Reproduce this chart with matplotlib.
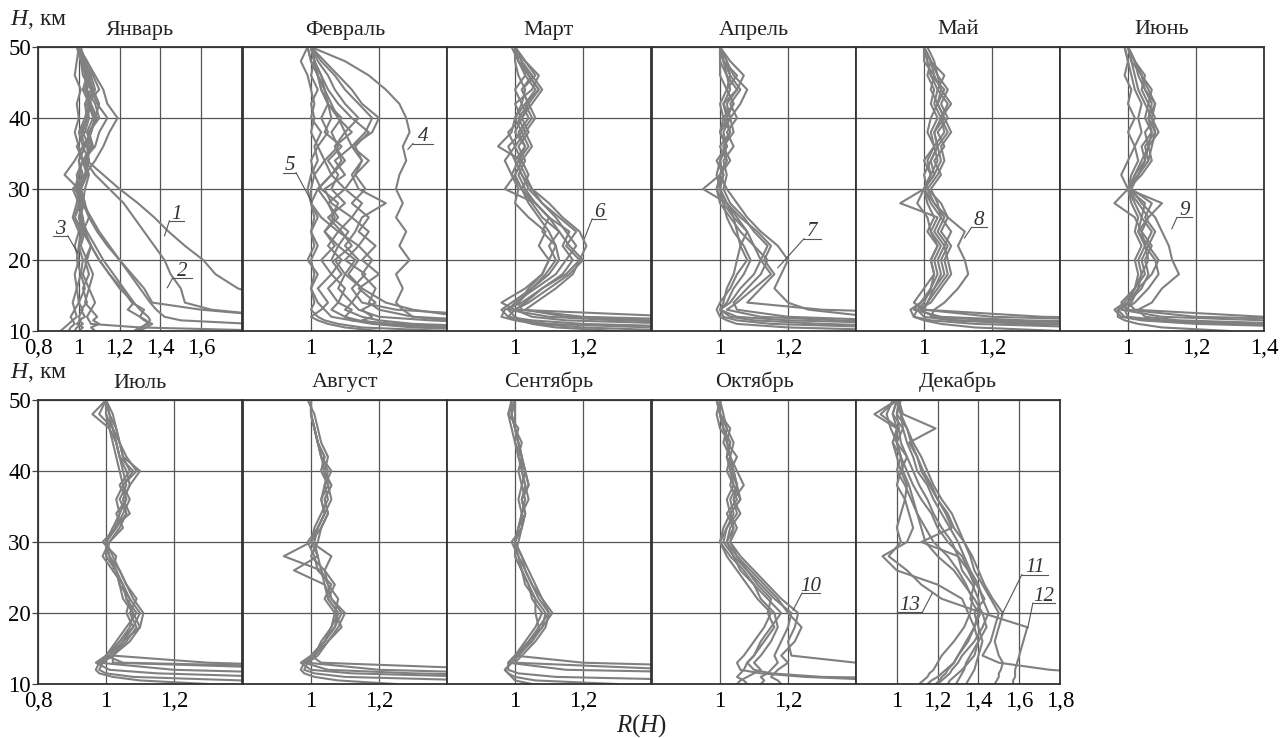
import matplotlib.pyplot as plt

plt.rcParams["font.family"] = ["Liberation Serif", "DejaVu Serif"]
plt.rcParams["mathtext.fontset"] = "custom"
plt.rcParams["mathtext.rm"] = "Liberation Serif"
plt.rcParams["mathtext.it"] = "Liberation Serif:italic"

# heights, km (shared by every profile)
H_KM = [10, 10.5, 11, 11.5, 12, 13, 14, 16, 18, 20, 22, 24, 26, 28, 30,
        32, 34, 36, 38, 40, 42, 44, 46, 48, 50]

# R(H) profiles per month (2.0 = off the panel)
JAN = [
    [2.0, 2.0, 2.0, 2.0, 2.0, 2.0, 2.0, 1.78, 1.67, 1.61, 1.52, 1.44, 1.37, 1.29, 1.2, 1.12, 1.04, 1.05, 1.02, 1.04, 1.03, 1.06, 1.02, 1.01, 1.0],
    [2.0, 2.0, 2.0, 2.0, 2.0, 1.65, 1.52, 1.5, 1.45, 1.42, 1.37, 1.32, 1.27, 1.22, 1.15, 1.08, 1.03, 1.06, 1.05, 1.1, 1.08, 1.04, 1.06, 1.02, 1.0],
    [1.29, 1.31, 1.33, 1.35, 1.34, 1.3, 1.27, 1.22, 1.17, 1.12, 1.08, 1.04, 1.01, 1.02, 1.0, 1.03, 1.05, 1.02, 1.06, 1.08, 1.05, 1.04, 1.03, 1.02, 1.0],
    [1.27, 1.3, 1.34, 1.33, 1.3, 1.32, 1.26, 1.21, 1.15, 1.1, 1.06, 1.02, 1.0, 1.03, 1.01, 1.04, 1.02, 1.08, 1.1, 1.14, 1.09, 1.06, 1.05, 1.02, 1.0],
    [2.0, 2.0, 1.85, 1.5, 1.42, 1.38, 1.35, 1.3, 1.25, 1.2, 1.15, 1.1, 1.06, 1.02, 0.98, 1.0, 1.02, 0.99, 1.03, 1.05, 1.04, 1.1, 1.07, 1.04, 1.0],
    [0.95, 0.96, 0.98, 0.97, 0.99, 0.98, 1.0, 0.99, 1.01, 0.99, 1.0, 1.02, 0.98, 1.01, 1.0, 0.99, 1.02, 1.0, 0.98, 1.0, 0.99, 1.01, 0.98, 0.99, 1.0],
    [0.98, 0.99, 1.02, 1.0, 1.03, 1.01, 1.04, 1.02, 1.05, 1.03, 1.06, 1.02, 1.05, 1.03, 1.01, 1.04, 1.02, 1.06, 1.04, 1.07, 1.05, 1.08, 1.06, 1.03, 1.0],
    [1.08, 1.06, 1.1, 1.07, 1.09, 1.06, 1.08, 1.05, 1.07, 1.04, 1.06, 1.03, 1.02, 1.0, 0.99, 1.02, 1.0, 1.03, 1.01, 1.04, 1.06, 1.03, 1.04, 1.01, 0.99],
    [1.0, 1.02, 0.99, 1.01, 1.0, 1.02, 1.0, 1.03, 1.01, 1.02, 1.0, 1.01, 0.98, 1.0, 0.97, 1.03, 1.08, 1.12, 1.15, 1.19, 1.14, 1.12, 1.08, 1.04, 1.0],
    [0.91, 0.93, 0.95, 0.97, 0.96, 0.98, 0.97, 0.99, 0.98, 1.0, 0.98, 1.0, 0.97, 0.99, 1.0, 0.93, 0.98, 1.02, 1.0, 1.03, 1.05, 1.02, 1.04, 1.01, 1.0],
    [1.3, 1.33, 1.36, 1.32, 1.3, 1.24, 1.27, 1.2, 1.15, 1.1, 1.06, 1.03, 1.0, 1.02, 1.03, 1.05, 1.03, 1.07, 1.05, 1.09, 1.06, 1.04, 1.05, 1.03, 1.01],
    [2.0, 1.3, 1.06, 1.05, 1.04, 1.06, 1.03, 1.05, 1.02, 1.04, 1.01, 1.03, 1.0, 1.02, 1.01, 1.03, 1.05, 1.04, 1.06, 1.08, 1.05, 1.07, 1.03, 1.02, 1.0],
    [2.0, 2.0, 2.0, 2.0, 2.0, 1.6, 1.36, 1.32, 1.26, 1.2, 1.14, 1.09, 1.05, 1.02, 1.0, 1.01, 1.0, 1.03, 1.06, 1.08, 1.1, 1.07, 1.05, 1.02, 1.0],
]
FEB = [
    [2.0, 2.0, 1.6, 1.4, 1.3, 1.27, 1.25, 1.27, 1.25, 1.29, 1.26, 1.28, 1.25, 1.27, 1.25, 1.26, 1.28, 1.27, 1.29, 1.28, 1.26, 1.22, 1.17, 1.1, 1.0],
    [2.0, 1.5, 1.25, 1.12, 1.06, 1.04, 1.02, 1.0, 1.01, 1.0, 1.02, 1.0, 1.01, 1.0, 1.0, 1.01, 1.0, 1.02, 1.0, 1.01, 1.0, 1.02, 1.0, 1.01, 1.0],
    [1.6, 1.3, 1.18, 1.12, 1.1, 1.12, 1.08, 1.1, 1.06, 1.09, 1.05, 1.08, 1.03, 1.0, 1.02, 1.06, 1.04, 1.08, 1.06, 1.09, 1.05, 1.04, 1.02, 1.01, 1.0],
    [2.0, 2.0, 1.8, 1.5, 1.3, 1.2, 1.17, 1.19, 1.15, 1.18, 1.14, 1.17, 1.12, 1.15, 1.1, 1.13, 1.15, 1.12, 1.16, 1.18, 1.14, 1.1, 1.07, 1.03, 1.0],
    [2.0, 1.4, 1.2, 1.14, 1.1, 1.06, 1.08, 1.05, 1.09, 1.06, 1.08, 1.04, 1.07, 1.05, 1.02, 1.06, 1.09, 1.07, 1.1, 1.08, 1.06, 1.04, 1.03, 1.01, 1.0],
    [1.8, 1.35, 1.2, 1.15, 1.18, 1.15, 1.19, 1.14, 1.2, 1.15, 1.19, 1.14, 1.17, 1.12, 1.16, 1.13, 1.17, 1.12, 1.18, 1.2, 1.15, 1.12, 1.08, 1.04, 1.0],
    [2.0, 2.0, 2.0, 1.7, 1.45, 1.3, 1.22, 1.15, 1.1, 1.13, 1.08, 1.11, 1.06, 1.08, 1.03, 1.01, 1.04, 1.02, 1.05, 1.03, 1.05, 1.03, 1.02, 1.0, 0.99],
    [1.2, 1.1, 1.05, 1.02, 1.0, 1.03, 1.05, 1.02, 1.06, 1.03, 1.07, 1.04, 1.08, 1.05, 1.1, 1.06, 1.1, 1.07, 1.12, 1.08, 1.05, 1.04, 1.02, 1.0, 0.99],
    [2.0, 2.0, 1.6, 1.35, 1.2, 1.14, 1.12, 1.15, 1.11, 1.14, 1.1, 1.13, 1.15, 1.22, 1.14, 1.12, 1.15, 1.13, 1.17, 1.12, 1.08, 1.05, 1.03, 1.01, 1.0],
    [1.4, 1.15, 1.08, 1.04, 1.02, 1.0, 1.01, 1.0, 1.02, 0.99, 1.01, 1.0, 1.02, 1.0, 0.99, 1.0, 1.02, 1.01, 1.03, 1.0, 1.01, 1.0, 0.99, 0.97, 0.99],
    [2.0, 1.6, 1.3, 1.2, 1.15, 1.1, 1.12, 1.08, 1.1, 1.07, 1.12, 1.09, 1.05, 1.1, 1.06, 1.08, 1.05, 1.09, 1.04, 1.06, 1.05, 1.03, 1.02, 1.01, 1.0],
    [2.0, 2.0, 2.0, 2.0, 1.6, 1.25, 1.15, 1.12, 1.16, 1.1, 1.14, 1.08, 1.12, 1.06, 1.04, 1.1, 1.07, 1.12, 1.1, 1.14, 1.1, 1.07, 1.05, 1.02, 1.0],
]
MAR = [
    [2.0, 2.0, 1.5, 1.15, 1.05, 1.0, 1.03, 1.08, 1.15, 1.19, 1.21, 1.19, 1.14, 1.1, 1.05, 1.03, 1.01, 1.04, 1.02, 1.05, 1.03, 1.06, 1.03, 1.02, 1.0],
    [2.0, 1.6, 1.2, 1.05, 0.98, 0.96, 0.99, 1.05, 1.1, 1.13, 1.12, 1.1, 1.07, 1.04, 1.02, 0.99, 1.01, 1.03, 1.0, 1.02, 1.04, 1.02, 1.05, 1.01, 1.0],
    [2.0, 2.0, 1.7, 1.3, 1.1, 0.98, 1.0, 1.06, 1.12, 1.15, 1.18, 1.15, 1.12, 1.08, 1.04, 1.02, 1.0, 0.98, 1.02, 1.0, 1.03, 1.07, 1.04, 1.01, 1.0],
    [1.5, 1.2, 1.06, 1.0, 0.96, 0.97, 1.02, 1.08, 1.14, 1.17, 1.14, 1.16, 1.1, 1.06, 0.97, 1.0, 1.02, 1.0, 1.03, 1.01, 1.04, 1.02, 1.06, 1.03, 1.0],
    [2.0, 2.0, 2.0, 1.6, 1.2, 1.02, 1.01, 1.05, 1.09, 1.12, 1.1, 1.13, 1.08, 1.05, 1.02, 1.0, 1.02, 0.95, 0.99, 1.0, 1.02, 1.0, 1.03, 1.01, 0.99],
    [2.0, 1.4, 1.1, 1.02, 0.98, 1.0, 1.04, 1.1, 1.16, 1.2, 1.16, 1.13, 1.1, 1.06, 1.03, 1.01, 1.03, 1.01, 1.04, 1.02, 1.05, 1.08, 1.05, 1.02, 1.0],
    [1.3, 1.12, 1.05, 1.02, 1.0, 0.98, 1.01, 1.04, 1.08, 1.1, 1.12, 1.08, 1.1, 1.06, 1.02, 1.04, 1.02, 1.05, 1.03, 1.06, 1.04, 1.07, 1.04, 1.02, 1.0],
    [2.0, 2.0, 1.8, 1.4, 1.15, 1.03, 1.06, 1.12, 1.17, 1.19, 1.15, 1.18, 1.13, 1.08, 1.05, 1.02, 1.0, 1.03, 1.01, 1.04, 1.02, 1.03, 1.01, 1.0, 1.0],
    [2.0, 2.0, 2.0, 2.0, 1.5, 1.0, 0.96, 1.03, 1.08, 1.1, 1.07, 1.09, 1.04, 1.0, 1.01, 0.99, 0.97, 1.0, 0.98, 1.02, 1.0, 1.05, 1.07, 1.03, 1.0],
]
APR = [
    [2.0, 2.0, 2.0, 2.0, 1.45, 1.26, 1.2, 1.16, 1.18, 1.2, 1.17, 1.12, 1.08, 1.05, 1.02, 1.0, 1.02, 1.01, 1.03, 1.02, 1.04, 1.02, 1.05, 1.01, 1.0],
    [2.0, 2.0, 1.6, 1.2, 1.05, 1.0, 1.03, 1.06, 1.1, 1.12, 1.1, 1.06, 1.03, 1.0, 0.99, 1.01, 1.0, 1.02, 1.01, 1.03, 1.02, 1.05, 1.02, 1.01, 1.0],
    [2.0, 1.5, 1.15, 1.05, 1.01, 1.0, 1.02, 1.04, 1.07, 1.09, 1.07, 1.04, 1.02, 1.01, 0.99, 1.0, 1.02, 1.0, 1.03, 1.01, 1.04, 1.02, 1.03, 1.01, 1.0],
    [2.0, 2.0, 2.0, 1.5, 1.2, 1.05, 1.04, 1.08, 1.12, 1.14, 1.1, 1.08, 1.05, 1.02, 0.95, 1.0, 1.03, 1.01, 1.04, 1.03, 1.06, 1.08, 1.04, 1.02, 1.0],
    [1.6, 1.2, 1.05, 1.02, 1.0, 0.99, 1.0, 1.03, 1.05, 1.08, 1.06, 1.08, 1.04, 1.02, 1.0, 1.01, 1.0, 1.02, 1.0, 1.02, 1.01, 1.03, 1.02, 1.0, 1.0],
    [2.0, 2.0, 1.8, 1.35, 1.12, 1.02, 1.05, 1.1, 1.15, 1.12, 1.14, 1.1, 1.07, 1.03, 1.01, 1.02, 1.01, 1.04, 1.02, 1.05, 1.03, 1.06, 1.03, 1.02, 1.0],
    [2.0, 1.7, 1.3, 1.1, 1.03, 1.0, 1.01, 1.02, 1.04, 1.05, 1.06, 1.05, 1.04, 1.01, 1.0, 0.99, 1.0, 1.02, 1.0, 1.01, 1.0, 1.02, 1.0, 1.0, 1.0],
    [2.0, 2.0, 2.0, 2.0, 2.0, 1.3, 1.08, 1.12, 1.16, 1.13, 1.15, 1.11, 1.06, 1.02, 1.0, 1.01, 0.99, 1.02, 1.0, 1.03, 1.01, 1.05, 1.07, 1.03, 1.0],
]
MAY = [
    [2.0, 2.0, 1.4, 1.1, 1.02, 1.03, 1.06, 1.1, 1.13, 1.12, 1.1, 1.12, 1.07, 1.05, 1.01, 1.0, 1.02, 1.04, 1.03, 1.06, 1.04, 1.05, 1.03, 1.02, 1.0],
    [2.0, 2.0, 1.8, 1.3, 1.05, 0.97, 0.99, 1.03, 1.06, 1.05, 1.07, 1.04, 1.06, 1.03, 1.0, 1.02, 1.04, 1.03, 1.06, 1.05, 1.07, 1.04, 1.06, 1.02, 1.0],
    [2.0, 1.5, 1.15, 1.02, 0.97, 0.96, 0.99, 1.02, 1.04, 1.03, 1.05, 1.02, 1.04, 0.93, 1.0, 1.03, 1.05, 1.04, 1.07, 1.05, 1.08, 1.05, 1.04, 1.03, 1.01],
    [2.0, 2.0, 2.0, 1.6, 1.2, 1.0, 1.01, 1.04, 1.07, 1.06, 1.08, 1.05, 1.07, 1.03, 1.01, 1.04, 1.06, 1.05, 1.08, 1.06, 1.04, 1.06, 1.02, 1.01, 1.0],
    [1.4, 1.15, 1.05, 1.0, 0.97, 0.98, 1.0, 1.02, 1.03, 1.02, 1.04, 1.01, 1.03, 1.01, 1.0, 1.02, 1.01, 1.03, 1.02, 1.04, 1.02, 1.03, 1.01, 1.02, 1.0],
    [2.0, 1.8, 1.3, 1.08, 1.0, 0.98, 1.02, 1.05, 1.08, 1.07, 1.06, 1.08, 1.05, 1.04, 1.02, 1.05, 1.03, 1.06, 1.04, 1.07, 1.05, 1.07, 1.04, 1.02, 1.0],
    [2.0, 2.0, 1.6, 1.2, 1.03, 0.99, 1.01, 1.03, 1.05, 1.04, 1.06, 1.03, 1.05, 1.02, 1.0, 1.03, 1.02, 1.04, 1.03, 1.05, 1.03, 1.04, 1.02, 1.01, 1.0],
    [2.0, 2.0, 2.0, 2.0, 1.35, 1.0, 0.97, 1.0, 1.03, 1.02, 1.04, 1.02, 1.01, 0.98, 1.0, 1.02, 1.0, 1.03, 1.01, 1.02, 1.04, 1.02, 1.03, 1.0, 1.0],
]
JUN = [
    [2.0, 2.0, 1.5, 1.15, 1.05, 1.03, 1.07, 1.1, 1.15, 1.13, 1.12, 1.1, 1.08, 1.04, 1.01, 1.02, 1.04, 1.06, 1.05, 1.08, 1.06, 1.07, 1.04, 1.02, 1.0],
    [2.0, 2.0, 2.0, 2.0, 1.4, 1.02, 1.0, 1.03, 1.07, 1.09, 1.06, 1.08, 1.05, 1.07, 1.01, 1.03, 1.06, 1.07, 1.08, 1.06, 1.07, 1.05, 1.03, 1.02, 1.0],
    [2.0, 1.6, 1.2, 1.04, 0.98, 0.96, 0.99, 1.02, 1.05, 1.04, 1.06, 1.03, 1.04, 1.02, 1.0, 1.02, 1.05, 1.04, 1.07, 1.05, 1.06, 1.04, 1.05, 1.02, 1.0],
    [2.0, 2.0, 1.8, 1.4, 1.1, 0.98, 1.0, 1.04, 1.06, 1.05, 1.07, 1.04, 1.06, 1.03, 1.0, 1.03, 1.06, 1.05, 1.08, 1.07, 1.05, 1.03, 1.02, 1.01, 1.0],
    [1.3, 1.1, 1.03, 0.99, 0.97, 0.97, 1.0, 1.02, 1.03, 1.02, 1.04, 1.02, 1.03, 1.01, 1.0, 1.01, 1.03, 1.02, 1.04, 1.03, 1.04, 1.02, 1.01, 1.0, 0.99],
    [2.0, 2.0, 1.4, 1.1, 1.0, 0.99, 1.02, 1.06, 1.09, 1.08, 1.05, 1.07, 1.04, 1.05, 1.0, 1.04, 1.07, 1.06, 1.09, 1.07, 1.08, 1.06, 1.04, 1.02, 1.0],
    [2.0, 1.9, 1.3, 1.06, 0.99, 0.97, 1.01, 1.03, 1.04, 1.06, 1.05, 1.04, 1.02, 0.96, 1.0, 0.98, 1.0, 1.02, 1.0, 1.02, 1.0, 1.01, 0.99, 1.0, 0.99],
    [2.0, 2.0, 2.0, 1.7, 1.2, 1.0, 0.98, 1.02, 1.04, 1.03, 1.05, 1.03, 1.06, 1.1, 1.0, 1.03, 1.05, 1.06, 1.07, 1.06, 1.08, 1.05, 1.04, 1.01, 1.0],
]
JUL = [
    [2.0, 2.0, 2.0, 2.0, 2.0, 1.05, 1.0, 1.04, 1.08, 1.1, 1.07, 1.05, 1.03, 1.0, 1.01, 1.04, 1.06, 1.05, 1.07, 1.06, 1.04, 1.03, 1.02, 0.98, 1.0],
    [2.0, 2.0, 2.0, 1.6, 1.2, 0.98, 1.01, 1.05, 1.1, 1.11, 1.08, 1.06, 1.04, 1.01, 1.0, 1.03, 1.05, 1.07, 1.05, 1.09, 1.06, 1.04, 1.03, 1.01, 1.0],
    [1.3, 1.1, 1.02, 0.98, 0.97, 0.98, 1.01, 1.04, 1.07, 1.08, 1.05, 1.04, 1.03, 1.0, 1.0, 1.02, 1.04, 1.03, 1.05, 1.04, 1.03, 1.02, 1.01, 1.0, 1.0],
    [2.0, 2.0, 1.5, 1.15, 1.01, 0.97, 1.0, 1.03, 1.06, 1.09, 1.06, 1.05, 1.02, 1.03, 0.99, 1.03, 1.06, 1.04, 1.06, 1.05, 1.04, 1.03, 1.02, 1.0, 1.0],
    [2.0, 2.0, 2.0, 2.0, 1.7, 1.02, 1.02, 1.06, 1.09, 1.07, 1.09, 1.06, 1.04, 1.02, 1.0, 1.02, 1.07, 1.05, 1.07, 1.1, 1.05, 1.04, 1.02, 1.01, 1.0],
    [2.0, 1.4, 1.08, 1.0, 0.98, 0.99, 1.02, 1.05, 1.08, 1.06, 1.07, 1.04, 1.03, 1.01, 1.0, 1.03, 1.04, 1.06, 1.04, 1.07, 1.05, 1.04, 1.03, 1.02, 1.0],
    [2.0, 2.0, 2.0, 2.0, 2.0, 1.3, 1.02, 1.07, 1.1, 1.08, 1.06, 1.05, 1.02, 0.99, 1.01, 1.05, 1.03, 1.06, 1.05, 1.08, 1.04, 1.03, 1.01, 0.96, 1.0],
]
AUG = [
    [2.0, 2.0, 2.0, 1.6, 1.2, 0.99, 1.01, 1.05, 1.08, 1.1, 1.06, 1.05, 1.03, 0.92, 1.0, 1.02, 1.04, 1.03, 1.05, 1.04, 1.03, 1.02, 1.01, 1.0, 1.0],
    [2.0, 2.0, 1.5, 1.12, 1.0, 0.97, 1.0, 1.04, 1.07, 1.08, 1.05, 1.04, 0.95, 1.02, 1.0, 1.01, 1.03, 1.05, 1.04, 1.06, 1.03, 1.02, 1.01, 1.0, 1.0],
    [1.25, 1.08, 1.01, 0.98, 0.97, 0.98, 1.01, 1.03, 1.06, 1.07, 1.04, 1.06, 1.02, 1.01, 0.99, 1.02, 1.04, 1.03, 1.04, 1.05, 1.03, 1.02, 1.01, 1.0, 1.0],
    [2.0, 1.5, 1.1, 1.01, 0.98, 0.99, 1.02, 1.05, 1.09, 1.07, 1.08, 1.05, 1.04, 1.06, 1.0, 1.03, 1.05, 1.04, 1.06, 1.04, 1.05, 1.03, 1.02, 1.01, 0.99],
    [2.0, 2.0, 1.8, 1.3, 1.05, 0.98, 1.01, 1.04, 1.07, 1.09, 1.06, 1.04, 1.03, 1.02, 1.01, 1.02, 1.04, 1.06, 1.05, 1.03, 1.04, 1.02, 1.01, 1.0, 1.0],
    [2.0, 2.0, 2.0, 2.0, 1.6, 1.03, 1.0, 1.04, 1.06, 1.08, 1.05, 1.07, 1.04, 1.0, 1.02, 1.03, 1.05, 1.04, 1.06, 1.03, 1.04, 1.02, 1.01, 1.0, 1.0],
]
SEP = [
    [2.0, 2.0, 2.0, 2.0, 1.5, 1.0, 1.02, 1.06, 1.09, 1.1, 1.07, 1.05, 1.03, 1.01, 1.0, 1.01, 1.03, 1.02, 1.04, 1.03, 1.02, 1.01, 1.0, 0.99, 1.0],
    [2.0, 2.0, 2.0, 1.7, 1.15, 0.98, 1.0, 1.04, 1.08, 1.09, 1.06, 1.04, 1.02, 1.0, 1.01, 1.02, 1.02, 1.03, 1.02, 1.03, 1.01, 1.02, 1.0, 0.99, 0.99],
    [1.3, 1.06, 1.0, 0.98, 0.97, 0.99, 1.01, 1.05, 1.07, 1.1, 1.08, 1.05, 1.03, 1.02, 1.0, 1.01, 1.02, 1.04, 1.03, 1.02, 1.02, 1.01, 1.0, 1.0, 1.0],
    [2.0, 1.6, 1.12, 1.01, 0.98, 0.98, 1.0, 1.03, 1.06, 1.08, 1.05, 1.04, 1.02, 1.01, 0.99, 1.02, 1.03, 1.02, 1.03, 1.02, 1.01, 1.0, 1.01, 0.98, 1.0],
    [1.05, 1.0, 0.99, 0.98, 0.97, 0.99, 1.01, 1.04, 1.07, 1.06, 1.06, 1.03, 1.02, 1.0, 1.0, 1.01, 1.02, 1.01, 1.02, 1.01, 1.02, 1.0, 0.99, 0.98, 0.99],
    [2.0, 2.0, 2.0, 2.0, 2.0, 1.2, 1.0, 1.05, 1.08, 1.11, 1.08, 1.06, 1.04, 1.02, 1.0, 1.02, 1.03, 1.02, 1.04, 1.03, 1.02, 1.01, 1.0, 0.99, 1.0],
]
OCT = [
    [2.0, 2.0, 2.0, 2.0, 2.0, 1.4, 1.21, 1.2, 1.22, 1.23, 1.18, 1.14, 1.1, 1.06, 1.03, 1.04, 1.02, 1.05, 1.03, 1.04, 1.02, 1.03, 1.01, 1.0, 1.0],
    [1.12, 1.13, 1.12, 1.14, 1.15, 1.17, 1.16, 1.18, 1.2, 1.21, 1.16, 1.12, 1.08, 1.05, 1.02, 1.04, 1.03, 1.06, 1.04, 1.03, 1.05, 1.02, 1.01, 1.0, 1.0],
    [1.05, 1.06, 1.08, 1.1, 1.12, 1.1, 1.12, 1.15, 1.17, 1.16, 1.12, 1.1, 1.06, 1.04, 1.01, 1.02, 1.04, 1.03, 1.05, 1.04, 1.02, 1.03, 1.01, 1.0, 0.99],
    [2.0, 2.0, 1.3, 1.15, 1.1, 1.08, 1.1, 1.12, 1.15, 1.18, 1.14, 1.1, 1.07, 1.03, 1.0, 1.02, 1.05, 1.04, 1.07, 1.05, 1.03, 1.04, 1.02, 1.01, 1.0],
    [1.18, 1.17, 1.15, 1.16, 1.17, 1.2, 1.18, 1.22, 1.24, 1.2, 1.17, 1.13, 1.09, 1.05, 1.03, 1.05, 1.03, 1.06, 1.05, 1.04, 1.03, 1.02, 1.03, 1.0, 1.0],
    [2.0, 1.5, 1.25, 1.12, 1.06, 1.05, 1.07, 1.1, 1.13, 1.15, 1.11, 1.08, 1.05, 1.02, 1.0, 1.01, 1.03, 1.02, 1.04, 1.02, 1.03, 1.01, 1.02, 1.0, 0.99],
    [1.08, 1.07, 1.05, 1.06, 1.07, 1.08, 1.1, 1.13, 1.16, 1.14, 1.15, 1.11, 1.08, 1.04, 1.02, 1.03, 1.06, 1.04, 1.05, 1.03, 1.02, 1.03, 1.0, 0.99, 1.0],
]
DEC = [
    [1.48, 1.49, 1.5, 1.5, 1.51, 1.52, 1.5, 1.48, 1.5, 1.52, 1.47, 1.43, 1.4, 1.37, 1.33, 1.28, 1.25, 1.2, 1.16, 1.12, 1.1, 1.07, 1.05, 1.02, 1.0],
    [1.57, 1.57, 1.58, 1.58, 1.58, 1.59, 1.6, 1.62, 1.64, 1.42, 1.22, 1.12, 1.05, 0.96, 1.02, 1.0, 1.02, 1.04, 1.0, 1.02, 1.05, 1.0, 1.03, 0.98, 1.0],
    [1.2, 1.22, 1.24, 1.26, 1.27, 1.3, 1.32, 1.38, 1.42, 1.45, 1.42, 1.4, 1.36, 1.33, 1.3, 1.26, 1.22, 1.18, 1.15, 1.1, 1.08, 1.05, 1.03, 1.02, 1.0],
    [1.11, 1.13, 1.15, 1.16, 1.18, 1.2, 1.22, 1.28, 1.33, 1.36, 1.37, 1.34, 1.3, 1.25, 1.18, 1.14, 1.1, 1.08, 1.06, 1.03, 1.02, 1.0, 1.0, 0.98, 1.0],
    [2.0, 2.0, 2.0, 2.0, 1.75, 1.5, 1.42, 1.46, 1.48, 1.5, 1.46, 1.42, 1.38, 1.36, 1.33, 1.3, 1.27, 1.22, 1.18, 1.15, 1.12, 1.08, 1.05, 1.0, 1.02],
    [1.19, 1.21, 1.22, 1.24, 1.25, 1.28, 1.3, 1.35, 1.38, 1.4, 1.36, 1.38, 1.35, 1.32, 1.25, 1.2, 1.17, 1.12, 1.08, 1.05, 1.02, 0.98, 1.0, 0.89, 1.0],
    [1.34, 1.35, 1.36, 1.37, 1.38, 1.39, 1.4, 1.42, 1.4, 1.38, 1.43, 1.39, 1.35, 1.3, 1.12, 1.27, 1.24, 1.2, 1.17, 1.13, 1.1, 1.06, 1.19, 1.03, 1.01],
    [1.29, 1.3, 1.31, 1.32, 1.33, 1.34, 1.36, 1.4, 1.44, 1.42, 1.38, 1.33, 1.28, 1.2, 1.14, 1.12, 1.1, 1.07, 1.04, 1.0, 1.02, 1.0, 0.97, 0.95, 0.98],
    [1.25, 1.26, 1.28, 1.3, 1.32, 1.35, 1.38, 1.4, 1.38, 1.41, 1.4, 1.37, 1.32, 1.3, 1.27, 1.22, 1.18, 1.15, 1.11, 1.08, 1.05, 1.02, 1.01, 1.0, 1.01],
    [1.15, 1.17, 1.2, 1.22, 1.24, 1.28, 1.3, 1.34, 1.38, 1.35, 1.32, 1.2, 1.0, 0.93, 1.05, 1.08, 1.06, 1.04, 1.05, 1.02, 1.0, 0.98, 1.01, 0.92, 1.0],
]

MONTHS = ["Январь", "Февраль", "Март", "Апрель", "Май", "Июнь",
          "Июль", "Август", "Сентябрь", "Октябрь", "Декабрь"]
PROFILES = [JAN, FEB, MAR, APR, MAY, JUN, JUL, AUG, SEP, OCT, DEC]
X_MAX = [1.8, 1.4, 1.4, 1.4, 1.4, 1.4, 1.4, 1.4, 1.4, 1.4, 1.8]
X_TICKS = [
    [0.8, 1.0, 1.2, 1.4, 1.6],
    [1.0, 1.2], [1.0, 1.2], [1.0, 1.2], [1.0, 1.2],
    [1.0, 1.2, 1.4],
    [0.8, 1.0, 1.2],
    [1.0, 1.2], [1.0, 1.2], [1.0, 1.2],
    [1.0, 1.2, 1.4, 1.6, 1.8],
]
Y_TICKS = [10, 20, 30, 40, 50]

# curve labels: panel, text, underline x0, x1, y, leader end used, leader target
CURVE_LABELS = [
    (0, "1", 1.444, 1.517, 25.5, "left", 1.42, 23.4),
    (0, "2", 1.459, 1.556, 17.4, "left", 1.434, 16.1),
    (0, "3", 0.873, 0.946, 23.4, "right", 0.995, 21.0),
    (1, "4", 1.300, 1.360, 36.4, "left", 1.285, 35.6),
    (1, "5", 0.918, 0.956, 32.3, "right", 1.003, 28.1),
    (2, "6", 1.227, 1.268, 25.8, "left", 1.204, 23.0),
    (3, "7", 1.247, 1.297, 23.0, "left", 1.170, 18.9),
    (4, "8", 1.140, 1.184, 24.6, "left", 1.119, 23.1),
    (5, "9", 1.144, 1.188, 26.0, "left", 1.129, 24.4),
    (9, "10", 1.241, 1.294, 22.8, "left", 1.215, 20.4),
    (10, "11", 1.613, 1.741, 25.4, "left", 1.514, 19.7),
    (10, "12", 1.667, 1.775, 21.4, "left", 1.642, 17.9),
    (10, "13", 1.002, 1.125, 20.1, "right", 1.174, 22.8),
]

FIG_W, FIG_H = 1285, 738
COL_LEFT = [38, 243, 447, 652, 856, 1060]
PANEL_W = 204
ROW_TOP = [47, 400]
PANEL_H = 284
LINE_COLOR = "#808080"


def comma(v):
    return f"{v:g}".replace(".", ",")


fig = plt.figure(figsize=(FIG_W / 100, FIG_H / 100), dpi=100)
axes = []
for i, (name, profiles) in enumerate(zip(MONTHS, PROFILES)):
    row, col = divmod(i, 6)
    left = COL_LEFT[col] / FIG_W
    bottom = 1 - (ROW_TOP[row] + PANEL_H) / FIG_H
    ax = fig.add_axes([left, bottom, PANEL_W / FIG_W, PANEL_H / FIG_H])
    axes.append(ax)

    for prof in profiles:
        ax.plot(prof, H_KM, color=LINE_COLOR, lw=1.5, solid_joinstyle="round")

    ax.set_xlim(0.8, X_MAX[i])
    ax.set_ylim(10, 50)
    ax.set_xticks(X_TICKS[i])
    ax.set_xticklabels([comma(v) for v in X_TICKS[i]], fontsize=16.5)
    ax.set_yticks(Y_TICKS)
    if col == 0:
        ax.set_yticklabels([str(v) for v in Y_TICKS], fontsize=16.5)
        ax.tick_params(axis="y", length=4, width=0.9, pad=1, color="#444444")
    else:
        ax.set_yticklabels([])
        ax.tick_params(axis="y", length=0)
    ax.tick_params(axis="x", length=0, pad=5)
    ax.grid(True, color="#555555", lw=0.9)
    ax.set_axisbelow(True)
    for sp in ax.spines.values():
        sp.set_color("#333333")
        sp.set_linewidth(1.3)
    ax.set_title(name, fontsize=16, pad=9, color="#222222")

for panel, text, x0, x1, y, end, tx, ty in CURVE_LABELS:
    ax = axes[panel]
    sx = x0 if end == "left" else x1
    ax.plot([x0, x1], [y, y], color="#555555", lw=0.8, clip_on=False)
    ax.plot([sx, tx], [y, ty], color="#555555", lw=0.8, clip_on=False)
    ax.annotate(text, xy=((x0 + x1) / 2, y), xytext=(0, -2),
                textcoords="offset points", ha="center", va="bottom",
                fontsize=15, fontstyle="italic", color="#333333")

for top in ROW_TOP:
    fig.text(10 / FIG_W, 1 - (top - 22) / FIG_H, "$H$, км", fontsize=17,
             va="baseline", ha="left", color="#222222")
fig.text(642 / FIG_W, 1 - 726 / FIG_H, "$R(H)$", fontsize=18,
         ha="center", va="center", color="#222222")

fig.savefig("out.png", dpi=100, facecolor="white")
